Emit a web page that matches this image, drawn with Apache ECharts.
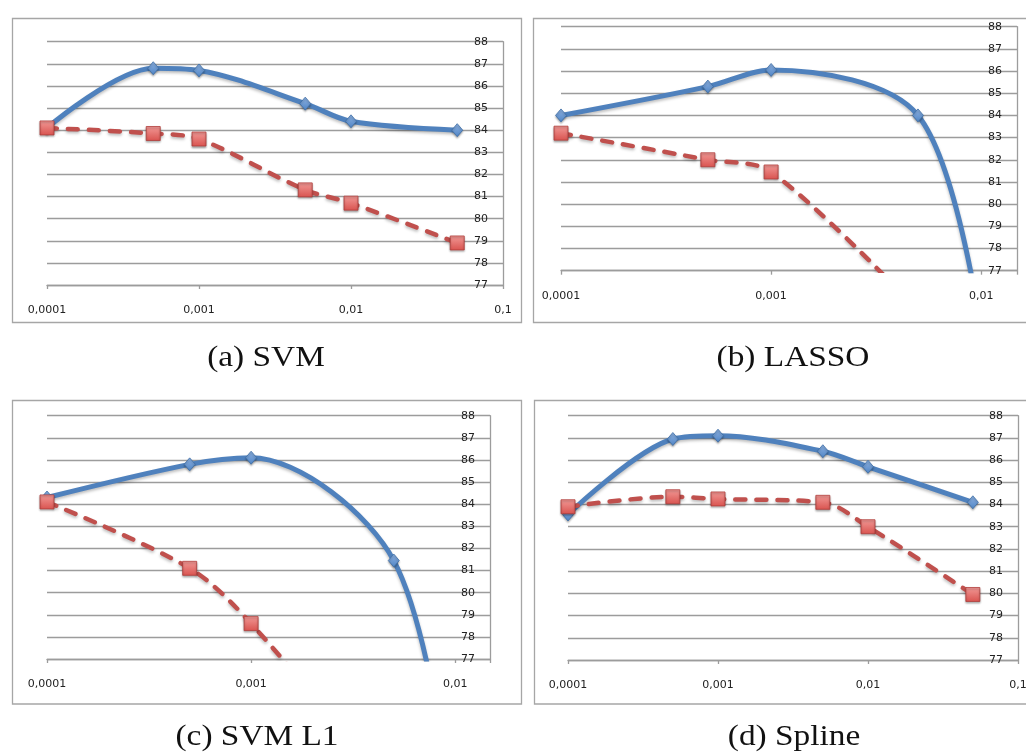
<!DOCTYPE html>
<html><head><meta charset="utf-8">
<script src="https://cdn.jsdelivr.net/npm/echarts@6/dist/echarts.min.js"></script>
<style>html,body{margin:0;padding:0;background:#fff}#c{width:1026px;height:754px}</style>
</head><body><div id="c"></div>
<script>
// ---- data ----
const xValues = [0.0001, 0.0005, 0.001, 0.005, 0.01, 0.05];
const xTickLabels = ['0,0001', '0,001', '0,01', '0,1'];
const yMin = 77, yMax = 88;
const captions = ['(a) SVM', '(b) LASSO', '(c) SVM L1', '(d) Spline'];

const svmBlue = [84.1, 86.8, 86.7, 85.2, 84.4, 84.0];
const svmRed = [84.1, 83.85, 83.6, 81.3, 80.7, 78.9];
const lassoBlue = [84.0, 85.3, 86.05, 84.0, 74.2];
const lassoRed = [83.2, 82.0, 81.45, 75.2];
const svml1Blue = [84.3, 85.8, 86.1, 81.45, 68.8];
const svml1Red = [84.1, 81.1, 78.6, 71.0];
const splineBlue = [83.55, 86.95, 87.1, 86.4, 85.7, 84.1];
const splineRed = [83.9, 84.35, 84.25, 84.1, 83.0, 79.95];

const xMaxes = [0.1, 0.0148, 0.0148, 0.1];
const panelBlue = [svmBlue, lassoBlue, svml1Blue, splineBlue];
const panelRed = [svmRed, lassoRed, svml1Red, splineRed];

// ---- layout ----
const grids = [
  {left: 47, top: 41.7, width: 456, height: 243.3},
  {left: 561, top: 26.7, width: 456, height: 244},
  {left: 47, top: 415.7, width: 443, height: 243.3},
  {left: 568, top: 415.7, width: 450, height: 244.3}
];
const boxes = [
  {x: 12.5, y: 18.5, width: 509, height: 304},
  {x: 533.5, y: 18.5, width: 520, height: 304},
  {x: 12.5, y: 400.5, width: 509, height: 303.5},
  {x: 534.5, y: 400.5, width: 520, height: 303.5}
];
const captionPos = [[266, 358], [793, 358], [257, 737], [794, 737]];

const gridColor = '#9c9c9c';
const blue = '#4f81bd';
const red = '#c0504d';

function pairs(vals) { return vals.map((v, i) => [xValues[i], v]); }
function xLabel(value) {
  const l = Math.log10(value);
  const e = Math.round(l);
  if (Math.abs(l - e) > 1e-6) return '';
  return xTickLabels[e + 4] || '';
}

const option = {
  animation: false,
  backgroundColor: '#fff',
  grid: grids.map(g => Object.assign({outerBoundsMode: 'none', containLabel: false}, g)),
  xAxis: grids.map((g, i) => ({
    type: 'log', logBase: 10, gridIndex: i,
    min: 0.0001, max: xMaxes[i],
    axisLine: {show: true, lineStyle: {color: gridColor, width: 1.3}},
    axisTick: {show: true, length: 4, lineStyle: {color: gridColor, width: 1.3}},
    axisLabel: {formatter: xLabel, margin: 20, fontFamily: 'DejaVu Sans', fontSize: 11, color: '#222'},
    splitLine: {show: false},
    minorTick: {show: false}
  })),
  yAxis: grids.map((g, i) => ({
    type: 'value', gridIndex: i, position: 'right',
    min: yMin, max: yMax, interval: 1,
    axisLine: {show: true, lineStyle: {color: gridColor, width: 1.3}},
    axisTick: {show: false},
    axisLabel: {inside: true, margin: 15, fontFamily: 'DejaVu Sans', fontSize: 11, color: '#222'},
    splitLine: {show: true, lineStyle: {color: gridColor, width: 1.3}}
  })),
  series: [],
  graphic: []
};

for (let i = 0; i < 4; i++) {
  option.series.push({
    type: 'line', xAxisIndex: i, yAxisIndex: i, clip: true,
    data: pairs(panelBlue[i]), smooth: 0.32,
    symbol: 'diamond', symbolSize: [11, 13],
    lineStyle: {color: blue, width: 5, shadowColor: 'rgba(0,0,0,0.25)', shadowBlur: 3, shadowOffsetY: 2},
    itemStyle: {
      color: new echarts.graphic.LinearGradient(0, 0, 0, 1, [{offset: 0, color: '#8fb3e3'}, {offset: 1, color: '#4f84c4'}]),
      borderColor: '#3f6fa8', borderWidth: 0.8,
      shadowColor: 'rgba(0,0,0,0.3)', shadowBlur: 2, shadowOffsetY: 1.5
    },
    z: 2
  });
  option.series.push({
    type: 'line', xAxisIndex: i, yAxisIndex: i, clip: true,
    data: pairs(panelRed[i]), smooth: 0.32,
    symbol: 'rect', symbolSize: 14,
    lineStyle: {color: red, width: 4.5, type: [10, 11], cap: 'round',
      shadowColor: 'rgba(0,0,0,0.25)', shadowBlur: 3, shadowOffsetY: 2},
    itemStyle: {
      color: new echarts.graphic.LinearGradient(0, 0, 0, 1, [{offset: 0, color: '#f29a97'}, {offset: 1, color: '#d9534f'}]),
      borderColor: '#b03e3b', borderWidth: 0.8,
      shadowColor: 'rgba(0,0,0,0.3)', shadowBlur: 2, shadowOffsetY: 1.5
    },
    z: 3
  });
  option.graphic.push({
    type: 'rect', z: -10, silent: true,
    shape: boxes[i],
    style: {fill: null, stroke: '#a6a6a6', lineWidth: 1.3}
  });
  option.graphic.push({
    type: 'text', x: captionPos[i][0], y: captionPos[i][1], scaleX: 1.15,
    style: {text: captions[i], font: '29px "Liberation Serif"', fill: '#111', align: 'center', verticalAlign: 'middle'}
  });
}

const chart = echarts.init(document.getElementById('c'), null, {renderer: 'canvas'});
chart.setOption(option);
</script>
</body></html>
